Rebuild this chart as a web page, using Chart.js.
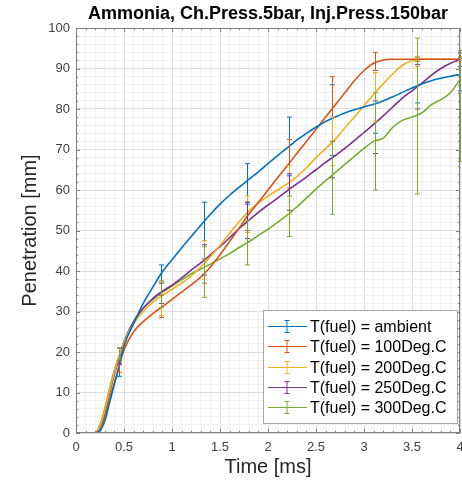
<!DOCTYPE html>
<html>
<head>
<meta charset="utf-8">
<script src="https://cdn.jsdelivr.net/npm/chart.js@4"></script>
<style>
  html, body { margin: 0; padding: 0; background: #fff; }
  #wrap { width: 462px; height: 485px; }
</style>
</head>
<body>
<div id="wrap"><canvas id="penChart" width="462" height="485"></canvas></div>
<script>
// time axis of the smoothed curves [ms]
const times = [0, 0.1, 0.2, 0.25, 0.3, 0.35, 0.4, 0.45, 0.5, 0.6, 0.7, 0.8, 0.9, 1.0, 1.1, 1.2, 1.3, 1.4, 1.5, 1.6, 1.7, 1.8, 1.9, 2.0,
  2.1, 2.2, 2.3, 2.4, 2.5, 2.6, 2.7, 2.8, 2.9, 3.0, 3.1, 3.2, 3.3, 3.4, 3.5, 3.6, 3.7, 3.8, 3.9, 4.0];

// penetration [mm]
const penAmbient = [0, 0, 0, 0.5, 3, 7.5, 12, 16.5, 21.5, 27, 32, 36, 39.8, 42.8, 45.7, 48.5, 51.3, 54, 56.5, 58.7, 60.7, 62.6, 64.5, 66.5,
  68.5, 70.4, 72.3, 74, 75.5, 76.9, 78, 79, 79.8, 80.5, 81.2, 82, 83, 84.1, 85.2, 86.2, 87, 87.6, 88.1, 88.5];
const pen100 = [0, 0, 0, 0.8, 4, 8.5, 12.5, 16.5, 20.5, 25, 27.5, 29.5, 31.2, 33, 34.8, 36.6, 38.5, 41, 44, 47.3, 50.6, 54, 57, 60,
  63, 66, 69, 72, 75, 78, 81, 84, 87, 89.5, 91.3, 92.1, 92.3, 92.3, 92.3, 92.3, 92.3, 92.3, 92.3, 92.3];
const pen200 = [0, 0, 0, 1.5, 5.5, 10.5, 15, 19, 22.5, 27, 30, 32.3, 34, 35.5, 37, 38.8, 41, 43.5, 46.3, 49.3, 52.2, 54.8, 56.8, 58.5,
  60, 61.5, 63.3, 65.5, 68, 70.2, 72.5, 75.3, 78, 80.8, 83.6, 86.2, 88.7, 90.8, 91.9, 92.3, 92.3, 92.3, 92.3, 92.3];
const pen250 = [0, 0, 0, 1.2, 5, 10, 14.5, 18.5, 22.5, 27.5, 30.8, 33.2, 35, 36.5, 38.3, 40.2, 42, 44, 46, 48.2, 50.5, 52.5, 54.5, 56.3,
  58, 59.8, 61.5, 63.2, 65, 66.8, 68.5, 70.3, 72.2, 74.2, 76.2, 78.3, 80.5, 82.7, 84.5, 86.3, 88.3, 90, 91.3, 92.2];
const pen300 = [0, 0, 0, 2, 6, 11, 15.5, 19, 22.5, 27.5, 30.8, 33, 34.8, 36.3, 37.8, 39.3, 40.5, 41.7, 43, 44.3, 45.8, 47.2, 48.8, 50.3,
  52, 53.8, 55.8, 58, 60.2, 62.3, 64.3, 66.3, 68.3, 70.3, 72, 72.8, 75.5, 77.2, 78, 79, 81, 82.3, 84, 87.3];

// error bars (time, low, high)
const errTimes = [0.444, 0.889, 1.333, 1.778, 2.222, 2.667, 3.111, 3.556, 4.0];
const loAmbient = [14, 37.5, 47.5, 56.5, 63.5, 68.5, 74, 81.5, 84.5];
const hiAmbient = [17, 41.5, 57, 66.5, 78, 86, 89, 90.5, 92.5];
const lo100 = [15, 28.5, 37, 50, 60.5, 72, 89.5, 91.8, 92];
const hi100 = [18, 34, 43, 57, 72.5, 88, 94, 92.8, 92.6];
const lo200 = [17, 29, 38, 49.5, 54, 66, 77, 90.5, 91.5];
const hi200 = [21, 37.5, 47.5, 58.5, 66, 78, 89, 93, 93];
const lo250 = [17, 32, 39, 48, 55, 63, 69, 80, 90.5];
const hi250 = [21, 37, 46.5, 57, 64, 72, 82, 91, 93.8];
const lo300 = [18, 31, 33.5, 41.5, 48.5, 54, 60, 59, 67];
const hi300 = [21, 37, 46, 52.5, 58.5, 72, 84, 97.5, 94.5];

const labels = ['T(fuel) = ambient', 'T(fuel) = 100Deg.C', 'T(fuel) = 200Deg.C', 'T(fuel) = 250Deg.C', 'T(fuel) = 300Deg.C'];
const colors = ['#0072BD', '#D95319', '#EDB120', '#7E2F8E', '#77AC30'];
const chartTitle = 'Ammonia, Ch.Press.5bar, Inj.Press.150bar';

const FONT = "'Liberation Sans', Arial, sans-serif";

function makeSeries(i, values, lo, hi) {
  return {
    label: labels[i],
    data: times.map((t, k) => ({ x: t, y: values[k] })),
    errLo: lo,
    errHi: hi,
    borderColor: colors[i],
    backgroundColor: colors[i],
    borderWidth: 1.6,
    pointRadius: 0,
    fill: false,
    cubicInterpolationMode: 'monotone',
  };
}

const datasets = [
  makeSeries(0, penAmbient, loAmbient, hiAmbient),
  makeSeries(1, pen100, lo100, hi100),
  makeSeries(2, pen200, lo200, hi200),
  makeSeries(3, pen250, lo250, hi250),
  makeSeries(4, pen300, lo300, hi300),
];

// error bars drawn through the scales
const errorBars = {
  id: 'errorBars',
  afterDatasetsDraw(chart) {
    const { ctx, chartArea, scales: { x, y } } = chart;
    ctx.save();
    ctx.beginPath();
    ctx.rect(chartArea.left - 4, chartArea.top, chartArea.width + 8, chartArea.height);
    ctx.clip();
    ctx.lineWidth = 1;
    chart.data.datasets.forEach((ds) => {
      ctx.strokeStyle = ds.borderColor;
      errTimes.forEach((t, k) => {
        const px = Math.round(x.getPixelForValue(t)) + 0.5;
        const p1 = y.getPixelForValue(ds.errLo[k]);
        const p2 = y.getPixelForValue(ds.errHi[k]);
        ctx.beginPath();
        ctx.moveTo(px, p1); ctx.lineTo(px, p2);
        ctx.moveTo(px - 2.5, p1); ctx.lineTo(px + 2.5, p1);
        ctx.moveTo(px - 2.5, p2); ctx.lineTo(px + 2.5, p2);
        ctx.stroke();
      });
    });
    ctx.restore();
  },
};

// matlab style box, inward ticks, title over the axes and the legend inside
const boxAndLegend = {
  id: 'boxAndLegend',
  afterDraw(chart) {
    const { ctx, chartArea: a, scales: { x, y } } = chart;
    ctx.save();
    ctx.strokeStyle = '#808080';
    ctx.lineWidth = 1;
    ctx.strokeRect(Math.round(a.left) + 0.5, Math.round(a.top) + 0.5, Math.round(a.width) - 1, Math.round(a.height) - 1);

    ctx.beginPath();
    x.ticks.forEach((tk) => {
      const px = Math.round(x.getPixelForValue(tk.value)) + 0.5;
      const len = isMajor(tk.value, 0.5) ? 4 : 2;
      ctx.moveTo(px, a.bottom); ctx.lineTo(px, a.bottom - len);
      ctx.moveTo(px, a.top); ctx.lineTo(px, a.top + len);
    });
    y.ticks.forEach((tk) => {
      const py = Math.round(y.getPixelForValue(tk.value)) + 0.5;
      const len = isMajor(tk.value, 10) ? 4 : 2;
      ctx.moveTo(a.left, py); ctx.lineTo(a.left + len, py);
      ctx.moveTo(a.right, py); ctx.lineTo(a.right - len, py);
    });
    ctx.stroke();

    // title centred over the axes
    ctx.fillStyle = '#000';
    ctx.font = 'bold 18px ' + FONT;
    ctx.textAlign = 'center';
    ctx.textBaseline = 'middle';
    ctx.fillText(chartTitle, (a.left + a.right) / 2, 14);

    // legend
    const lx = 263, ly = 310, lw = 194, lh = 113;
    ctx.fillStyle = '#fff';
    ctx.fillRect(lx, ly, lw, lh);
    ctx.strokeStyle = '#a6a6a6';
    ctx.strokeRect(lx + 0.5, ly + 0.5, lw, lh);
    ctx.font = '16px ' + FONT;
    ctx.textAlign = 'left';
    chart.data.datasets.forEach((ds, i) => {
      const cy = Math.round(ly + 16 + i * 20.25) + 0.5;
      ctx.strokeStyle = ds.borderColor;
      ctx.lineWidth = 1;
      ctx.beginPath();
      ctx.moveTo(lx + 5, cy); ctx.lineTo(lx + 44, cy);
      ctx.moveTo(lx + 24, cy - 6); ctx.lineTo(lx + 24, cy + 6);
      ctx.moveTo(lx + 21.5, cy - 6); ctx.lineTo(lx + 26.5, cy - 6);
      ctx.moveTo(lx + 21.5, cy + 6); ctx.lineTo(lx + 26.5, cy + 6);
      ctx.stroke();
      ctx.fillStyle = '#000';
      ctx.fillText(ds.label, lx + 47, cy + 1);
    });
    ctx.restore();
  },
};

function isMajor(v, step) {
  return Math.abs(v / step - Math.round(v / step)) < 1e-6;
}

new Chart(document.getElementById('penChart').getContext('2d'), {
  type: 'line',
  data: { datasets: datasets },
  options: {
    responsive: false,
    animation: false,
    layout: { padding: { right: 2, top: 28, left: 0, bottom: 0 } },
    scales: {
      x: {
        type: 'linear',
        min: 0,
        max: 4,
        afterFit: (scale) => { scale.height = 52; scale.paddingLeft = 0; scale.paddingRight = 0; },
        ticks: {
          stepSize: 0.1,
          autoSkip: false,
          maxRotation: 0,
          padding: 7,
          color: '#404040',
          font: { family: FONT, size: 13 },
          callback: (v) => (isMajor(v, 0.5) ? String(Math.round(v * 10) / 10) : ''),
        },
        grid: {
          drawTicks: false,
          color: (c) => (isMajor(c.tick.value, 0.5) ? '#dedede' : '#f1f1f1'),
        },
        border: { display: false },
        title: {
          display: true,
          text: 'Time [ms]',
          color: '#262626',
          font: { family: FONT, size: 20 },
          padding: { top: 0, bottom: 6 },
        },
      },
      y: {
        min: 0,
        max: 100,
        afterFit: (scale) => { scale.width = 76; scale.paddingTop = 0; scale.paddingBottom = 0; },
        ticks: {
          stepSize: 2,
          autoSkip: false,
          padding: 6,
          color: '#404040',
          font: { family: FONT, size: 13 },
          callback: (v) => (isMajor(v, 10) ? String(v) : ''),
        },
        grid: {
          drawTicks: false,
          color: (c) => (isMajor(c.tick.value, 10) ? '#dedede' : '#f1f1f1'),
        },
        border: { display: false },
        title: {
          display: true,
          text: 'Penetration [mm]',
          color: '#262626',
          font: { family: FONT, size: 20 },
          padding: { top: 18, bottom: 0 },
        },
      },
    },
    plugins: {
      legend: { display: false },
      tooltip: { enabled: false },
      title: { display: false },
    },
  },
  plugins: [errorBars, boxAndLegend],
});
</script>
</body>
</html>
